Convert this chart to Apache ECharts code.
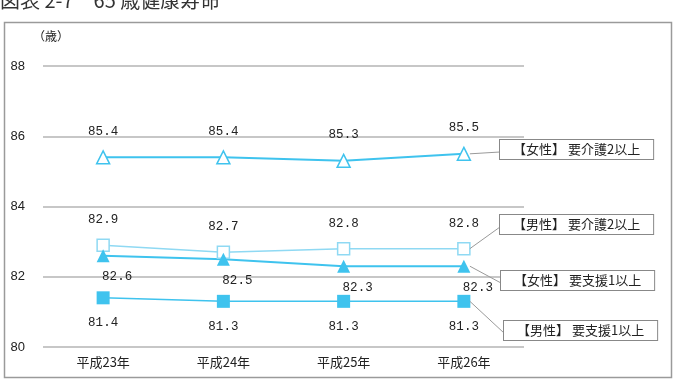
<!DOCTYPE html>
<html>
<head>
<meta charset="utf-8">
<script src="https://cdn.jsdelivr.net/npm/echarts@6/dist/echarts.min.js"></script>
<style>
  html, body { margin: 0; padding: 0; background: #fff; }
  #main { width: 676px; height: 380px; }
</style>
</head>
<body>
<div id="main"></div>
<script>
// 年度
var years = ['平成23年', '平成24年', '平成25年', '平成26年'];
// 系列名
var seriesNames = ['【女性】 要介護2以上', '【男性】 要介護2以上', '【女性】 要支援1以上', '【男性】 要支援1以上'];
// 各系列の値
var femaleCare2 = [85.4, 85.4, 85.3, 85.5];
var maleCare2 = [82.9, 82.7, 82.8, 82.8];
var femaleSupport1 = [82.6, 82.5, 82.3, 82.3];
var maleSupport1 = [81.4, 81.3, 81.3, 81.3];

var dom = document.getElementById('main');
var myChart = echarts.init(dom);

var blue = '#3fc3ee';
var lightBlue = '#8fd9f3';
var labelFont = 'Liberation Mono';

function valueLabel(pos, offset) {
    return {
        show: true,
        position: pos,
        distance: 10,
        offset: offset,
        color: '#222',
        fontSize: 12.5,
        fontFamily: labelFont,
        formatter: function (p) { return p.value.toFixed(1); }
    };
}

var option = {
    animation: false,
    grid: {
        left: 43,
        right: 152,
        top: 66,
        bottom: 33
    },
    xAxis: {
        type: 'category',
        data: years,
        axisLine: { show: false },
        axisTick: { show: false },
        axisLabel: {
            color: '#222',
            fontSize: 13,
            fontFamily: 'Noto Sans CJK JP',
            margin: 9
        }
    },
    yAxis: {
        type: 'value',
        min: 80,
        max: 88,
        interval: 2,
        name: '（歳）',
        nameGap: 24,
        nameTextStyle: {
            color: '#222',
            fontSize: 12,
            fontFamily: 'Noto Sans CJK JP',
            align: 'left',
            padding: [0, 0, 0, -10]
        },
        axisLine: { show: false },
        axisTick: { show: false },
        axisLabel: {
            color: '#222',
            fontSize: 13,
            fontFamily: 'Liberation Sans',
            margin: 18
        },
        splitLine: {
            lineStyle: { color: '#b4b4b4', width: 1.5 }
        }
    },
    series: [
        {
            name: seriesNames[0],
            type: 'line',
            data: femaleCare2,
            symbol: 'triangle',
            symbolSize: 13,
            lineStyle: { color: blue, width: 2 },
            itemStyle: { color: '#fff', borderColor: blue, borderWidth: 1.5 },
            label: valueLabel('top', [0, -2])
        },
        {
            name: seriesNames[1],
            type: 'line',
            data: maleCare2,
            symbol: 'rect',
            symbolSize: 12,
            lineStyle: { color: lightBlue, width: 1.5 },
            itemStyle: { color: '#fff', borderColor: lightBlue, borderWidth: 1.5 },
            label: valueLabel('top', [0, -2])
        },
        {
            name: seriesNames[2],
            type: 'line',
            data: femaleSupport1,
            symbol: 'triangle',
            symbolSize: 13,
            lineStyle: { color: blue, width: 2 },
            itemStyle: { color: blue },
            label: valueLabel('bottom', [14, -2])
        },
        {
            name: seriesNames[3],
            type: 'line',
            data: maleSupport1,
            symbol: 'rect',
            symbolSize: 13,
            lineStyle: { color: blue, width: 1.5 },
            itemStyle: { color: blue },
            label: valueLabel('bottom', [0, 2])
        }
    ]
};
myChart.setOption(option);

// 吹き出し（系列名の箱と引き出し線）
var boxes = [
    { x: 500, y: 140 },
    { x: 500, y: 215 },
    { x: 501, y: 271 },
    { x: 504, y: 321 }
];
var seriesData = [femaleCare2, maleCare2, femaleSupport1, maleSupport1];
var graphics = [
    {
        type: 'rect',
        left: 2, top: 20, z: -1,
        shape: { width: 667, height: 355 },
        style: { fill: 'none', stroke: '#9a9a9a', lineWidth: 1.5 }
    },
    {
        type: 'text',
        left: 0, top: -10,
        style: {
            text: '図表 2-7　65 歳健康寿命',
            fontSize: 20,
            fontFamily: 'Noto Sans CJK JP',
            fill: '#333'
        }
    }
];
for (let i = 0; i < boxes.length; i++) {
    var last = seriesData[i].length - 1;
    var pt = myChart.convertToPixel({ seriesIndex: i }, [last, seriesData[i][last]]);
    var b = boxes[i];
    graphics.push({
        type: 'line',
        z: 10,
        shape: { x1: pt[0] + 6, y1: pt[1], x2: b.x, y2: b.y + 12 },
        style: { stroke: '#999', lineWidth: 1 }
    });
    graphics.push({
        type: 'text',
        z: 11,
        x: b.x,
        y: b.y,
        style: {
            text: seriesNames[i],
            fontSize: 13,
            fontFamily: 'Noto Sans CJK JP',
            fill: '#222',
            backgroundColor: '#fff',
            borderColor: '#888',
            borderWidth: 1,
            padding: [3, 13, 3, 13]
        }
    });
}
myChart.setOption({ graphic: graphics });
</script>
</body>
</html>
